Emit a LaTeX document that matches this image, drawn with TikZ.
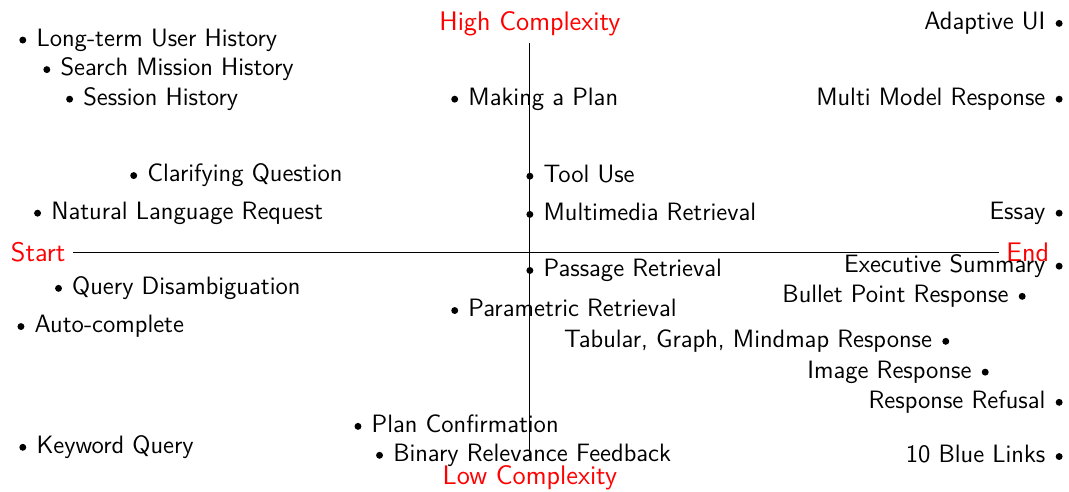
\documentclass[tikz,border=0pt]{standalone}
\begin{document}
\begin{tikzpicture}[
        font=\sffamily\fontsize{11.6pt}{14pt}\selectfont,
        axislabel/.style={text=red, font=\sffamily\fontsize{12.4pt}{15pt}\selectfont},
        dot/.style={circle, fill=black, inner sep=0pt, minimum size=3.2pt},
        lbl/.style={text height=8.2pt, text depth=2.4pt, label distance=1pt}
    ]
        \useasboundingbox (-8.60,-3.91) rectangle (8.75,4.07);

        \node[axislabel] (start) at (-7.98,-0.02) {Start};
        \node[axislabel] (end) at (8.08,-0.02) {End};
        \node[axislabel] (high) at (0,3.69) {High Complexity};
        \node[axislabel] (low) at (0,-3.69) {Low Complexity};
        \draw (start) -- (end);
        \draw (high) -- (low);

        \node[dot, label={[lbl]right:Long-term User History}] (longterm) at (-8.23,3.42) {};
        \node[dot, label={[lbl]right:Search Mission History}] (mission) at (-7.84,2.94) {};
        \node[dot, label={[lbl]right:Session History}] (session) at (-7.47,2.46) {};
        \node[dot, label={[lbl]right:Making a Plan}] (plan) at (-1.22,2.46) {};
        \node[dot, label={[lbl]right:Clarifying Question}] (clarify) at (-6.43,1.22) {};
        \node[dot, label={[lbl]right:Natural Language Request}] (nlrequest) at (-7.99,0.61) {};
        \node[dot, label={[lbl]right:Tool Use}] (tooluse) at (0,1.21) {};
        \node[dot, label={[lbl]right:Multimedia Retrieval}] (multimedia) at (0,0.59) {};
        \node[dot, label={[lbl]right:Passage Retrieval}] (passage) at (0,-0.32) {};
        \node[dot, label={[lbl]right:Query Disambiguation}] (disamb) at (-7.65,-0.61) {};
        \node[dot, label={[lbl]right:Auto-complete}] (autocomplete) at (-8.26,-1.23) {};
        \node[dot, label={[lbl]right:Parametric Retrieval}] (parametric) at (-1.22,-0.97) {};
        \node[dot, label={[lbl]right:Keyword Query}] (keyword) at (-8.23,-3.19) {};
        \node[dot, label={[lbl]right:Plan Confirmation}] (planconfirm) at (-2.79,-2.85) {};
        \node[dot, label={[lbl]right:Binary Relevance Feedback}] (binaryfb) at (-2.44,-3.32) {};

        \node[dot, label={[lbl]left:Adaptive UI}] (adaptive) at (8.59,3.69) {};
        \node[dot, label={[lbl]left:Multi Model Response}] (multimodel) at (8.59,2.46) {};
        \node[dot, label={[lbl]left:Essay}] (essay) at (8.59,0.61) {};
        \node[dot, label={[lbl]left:Executive Summary}] (execsummary) at (8.59,-0.25) {};
        \node[dot, label={[lbl]left:Bullet Point Response}] (bulletpoint) at (7.99,-0.74) {};
        \node[dot, label={[lbl]left:Tabular, Graph, Mindmap Response}] (tabular) at (6.75,-1.47) {};
        \node[dot, label={[lbl]left:Image Response}] (imageresp) at (7.39,-1.97) {};
        \node[dot, label={[lbl]left:Response Refusal}] (refusal) at (8.59,-2.46) {};
        \node[dot, label={[lbl]left:10 Blue Links}] (bluelinks) at (8.59,-3.34) {};
    \end{tikzpicture}
\end{document}
